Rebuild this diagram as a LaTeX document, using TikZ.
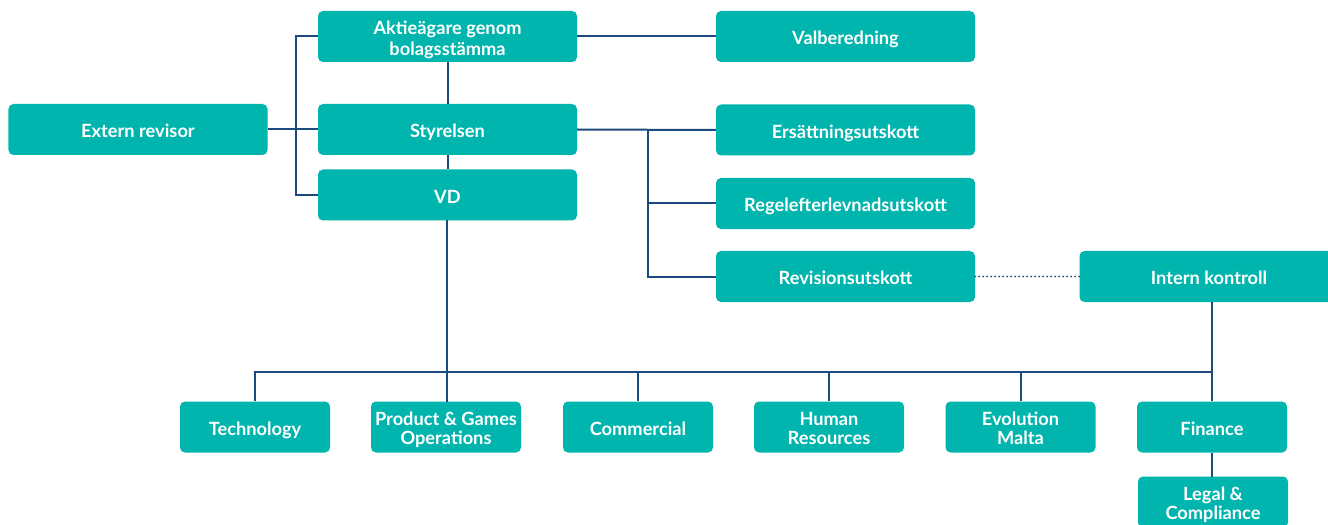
\documentclass[tikz,border=0pt]{standalone}
\usepackage{fontspec}
\setmainfont{Lato}[BoldFont={* Bold}]
\definecolor{teal}{HTML}{00B5AD}
\definecolor{navy}{HTML}{1C4A7E}
\newcommand\lbltext[2][21]{\raisebox{-4bp}[\height][\depth]{\fontsize{18.3}{#1}\selectfont\begin{tabular}{@{}c@{}}#2\end{tabular}}}
\begin{document}
\begin{tikzpicture}[x=1bp,y=-1bp,
  box/.style={fill=teal,rounded corners=5bp,text=white,font=\bfseries\fontsize{18.3}{21}\selectfont,inner sep=0pt},
  wbox/.style={box,minimum width=259bp,minimum height=51bp},
  sbox/.style={box,minimum width=150bp,minimum height=51bp},
  conn/.style={draw=navy,line width=2bp},
  dots/.style={draw=navy,line width=2bp,line cap=round,dash pattern=on 0bp off 4bp}]
\useasboundingbox (0,0) rectangle (1328,525);
\clip (0,0) rectangle (1328,525);
% nodes
\node[wbox] (aktie) at (447.5,36.5) {\lbltext{Aktieägare genom\\bolagsstämma}};
\node[wbox] (valb) at (845.5,36.5) {\lbltext{Valberedning}};
\node[wbox] (ext) at (138,129.5) {\lbltext{Extern revisor}};
\node[wbox] (styr) at (447.5,129.5) {\lbltext{Styrelsen}};
\node[wbox] (vd) at (447.5,195) {\lbltext{VD}};
\node[wbox] (ers) at (845.5,130) {\lbltext{Ersättningsutskott}};
\node[wbox] (regel) at (845.5,203.5) {\lbltext{Regelefterlevnadsutskott}};
\node[wbox] (rev) at (845.5,276.5) {\lbltext{Revisionsutskott}};
\node[wbox] (intern) at (1209,276.5) {\lbltext{Intern kontroll}};
\node[sbox] (tech) at (255,427) {\lbltext{Technology}};
\node[sbox] (prod) at (446,427) {\lbltext[18]{Product \& Games\\Operations}};
\node[sbox] (comm) at (638,427) {\lbltext{Commercial}};
\node[sbox] (hr) at (829,427) {\lbltext[18]{Human\\Resources}};
\node[sbox] (evo) at (1020.5,427) {\lbltext[18]{Evolution\\Malta}};
\node[sbox] (fin) at (1212,427) {\lbltext{Finance}};
\node[sbox] (legal) at (1213,502) {\lbltext[17]{Legal \&\\Compliance}};
% coordinates
\coordinate (sb) at (648,129.5);
% connectors
\draw[conn] (aktie.west) -- (296,36.5) -- (296,195) -- (vd.west);
\draw[conn] (ext.east) -- (styr.west);
\draw[conn] (aktie.south) -- (styr.north);
\draw[conn] (styr.south) -- (vd.north);
\draw[conn] (aktie.east) -- (valb.west);
\draw[conn] (styr.east) -- (ers.west);
\draw[conn] (sb) -- (648,276.5) -- (rev.west);
\draw[conn] (648,203.5) -- (regel.west);
\draw[dots] (rev.east) -- (intern.west);
\draw[conn] (447,220.5) -- (447,401.5);
\draw[conn] (tech.north) -- (255,372) -- (1212,372);
\draw[conn] (comm.north) -- (638,372);
\draw[conn] (hr.north) -- (829,372);
\draw[conn] (evo.north) -- (1020.5,372);
\draw[conn] (1212,302) -- (fin.north);
\draw[conn] (fin.south) -- (1212,476.5);
\end{tikzpicture}
\end{document}
